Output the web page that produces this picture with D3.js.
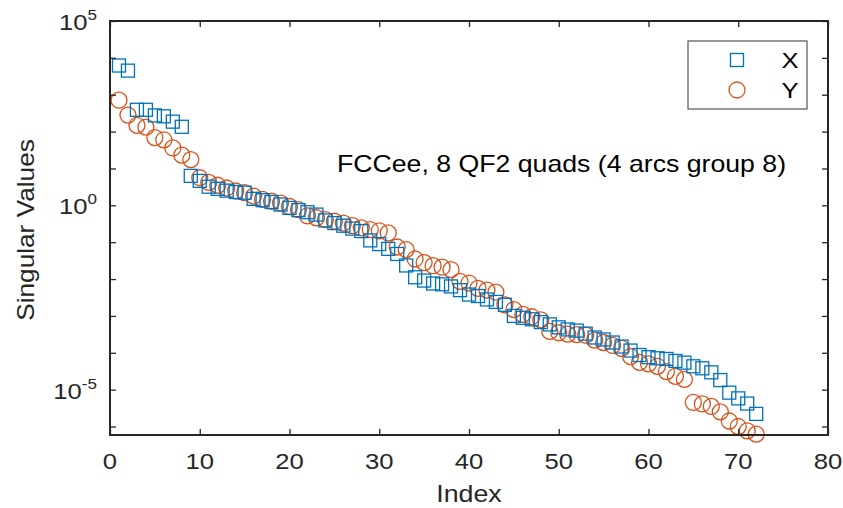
<!DOCTYPE html>
<html><head><meta charset="utf-8">
<script src="https://cdn.jsdelivr.net/npm/d3@7"></script>
<style>body{margin:0;background:#fff}text{font-family:"Liberation Sans",Arial,sans-serif}</style>
</head><body><svg id="c" width="843" height="508"></svg>
<script>
const xValues = [6.2e3,4.5e3,3.9e2,3.9e2,2.75e2,2.6e2,1.86e2,1.35e2,6.3,4.6,3.2,2.8,2.5,2.3,2.2,1.5,1.38,1.23,1.05,0.85,0.74,0.65,0.56,0.39,0.33,0.28,0.234,0.20,0.112,0.089,0.066,0.048,0.0234,0.0112,0.0091,0.0076,0.0072,0.0063,0.0050,0.0038,0.00347,0.0028,0.0024,0.0020,1.0e-3,8.9e-4,8.1e-4,6.8e-4,5.9e-4,4.9e-4,4.3e-4,4.0e-4,3.3e-4,2.6e-4,2.3e-4,1.9e-4,1.48e-4,1.15e-4,8.7e-5,7.6e-5,7.1e-5,6.8e-5,6.0e-5,5.4e-5,4.3e-5,3.8e-5,2.95e-5,1.82e-5,8.3e-6,5.8e-6,4.2e-6,2.2e-6];
const yValues = [7.1e2,2.8e2,1.48e2,1.32e2,69,60,36,23,17.4,5.6,4.2,3.5,2.95,2.45,2.2,1.78,1.45,1.29,1.15,0.93,0.76,0.52,0.46,0.41,0.37,0.33,0.28,0.245,0.22,0.204,0.178,0.074,0.063,0.035,0.028,0.023,0.021,0.018,0.0087,0.0078,0.0056,0.0050,0.0044,0.0020,0.00148,0.0011,9.5e-4,7.8e-4,3.8e-4,3.5e-4,3.2e-4,3.1e-4,3.0e-4,2.2e-4,1.9e-4,1.58e-4,1.32e-4,7.9e-5,5.5e-5,5.0e-5,4.3e-5,3.1e-5,2.3e-5,1.9e-5,4.5e-6,4.1e-6,3.5e-6,2.5e-6,1.41e-6,1.0e-6,7.6e-7,6.2e-7];
const xTicks = [0,10,20,30,40,50,60,70,80];
const yMajorTicks = [1e-5,1e0,1e5];
const yMinorTicks = [1e-6,1e-5,1e-4,1e-3,1e-2,1e-1,1e0,1e1,1e2,1e3,1e4,1e5];
const seriesNames = ["X","Y"];
const annotation = "FCCee, 8 QF2 quads (4 arcs group 8)";

const L=110,R=828,T=21,B=435;
const SX=1.14; // horizontal stretch of the reference's lettering
const svg=d3.select("#c");
const x=d3.scaleLinear().domain([0,80]).range([L,R]);
const y=d3.scaleLog().domain([Math.pow(10,-6.23),1e5]).range([B,T]);
const ax="#262626", blue="#0072BD", orange="#D95319";

function txt(parent,px,py,str,size,anchor,fill,rot){
  const t=parent.append("text")
    .attr("transform",`translate(${px},${py})${rot?` rotate(${rot})`:""} scale(${SX},1)`)
    .attr("font-size",size).attr("text-anchor",anchor||"start").attr("fill",fill||ax);
  if(str!==null) t.text(str);
  return t;
}

// markers
const g=svg.append("g");
g.selectAll("circle.y").data(yValues).enter().append("circle")
  .attr("cx",(d,i)=>x(i+1)).attr("cy",d=>y(d)).attr("r",8)
  .attr("fill","none").attr("stroke",orange).attr("stroke-width",1.3);
g.selectAll("rect.x").data(xValues).enter().append("rect")
  .attr("x",(d,i)=>x(i+1)-6.5).attr("y",d=>y(d)-6.5).attr("width",13).attr("height",13)
  .attr("fill","none").attr("stroke",blue).attr("stroke-width",1.3);

// axes ticks
const tl=6;
function styleAxis(sel){sel.select(".domain").remove();sel.selectAll("line").attr("stroke",ax).attr("stroke-width",1.3);sel.selectAll("text").remove();}
svg.append("g").attr("transform",`translate(0,${B})`).call(d3.axisBottom(x).tickValues(xTicks).tickSizeInner(-tl).tickSizeOuter(0)).call(styleAxis);
svg.append("g").attr("transform",`translate(0,${T})`).call(d3.axisTop(x).tickValues(xTicks).tickSizeInner(-tl).tickSizeOuter(0)).call(styleAxis);
svg.append("g").attr("transform",`translate(${L},0)`).call(d3.axisLeft(y).tickValues(yMinorTicks).tickSizeInner(-tl).tickSizeOuter(0)).call(styleAxis);
svg.append("g").attr("transform",`translate(${R},0)`).call(d3.axisRight(y).tickValues(yMinorTicks).tickSizeInner(-tl).tickSizeOuter(0)).call(styleAxis);

// x tick labels
xTicks.forEach(v=>txt(svg,x(v),469,d3.format("d")(v),22.5,"middle"));

// y tick labels 10^n
yMajorTicks.forEach(v=>{
  const e=Math.round(Math.log10(v));
  const t=txt(svg,L-13,y(v)+9,null,22.5,"end");
  t.append("tspan").text("10");
  t.append("tspan").attr("dy",-10).attr("font-size",15).text(String(e));
});

// box
svg.append("rect").attr("x",L).attr("y",T).attr("width",R-L).attr("height",B-T)
  .attr("fill","none").attr("stroke",ax).attr("stroke-width",2);

// labels
txt(svg,(L+R)/2,502,"Index",23.5,"middle");
txt(svg,34,(T+B)/2+2,"Singular Values",23,"middle",ax,-90);
txt(svg,337,172,annotation,23.4,"start","#000");

// legend
const lg=svg.append("g");
lg.append("rect").attr("x",688).attr("y",41).attr("width",119).attr("height",68)
  .attr("fill","#fff").attr("stroke","#555").attr("stroke-width",1.2);
lg.append("rect").attr("x",737-6.5).attr("y",60-6.5).attr("width",13).attr("height",13)
  .attr("fill","none").attr("stroke",blue).attr("stroke-width",1.3);
lg.append("circle").attr("cx",737).attr("cy",90).attr("r",8)
  .attr("fill","none").attr("stroke",orange).attr("stroke-width",1.3);
seriesNames.forEach((s,i)=>txt(lg,790,68+i*30,s,22.5,"middle","#000"));
</script></body></html>
